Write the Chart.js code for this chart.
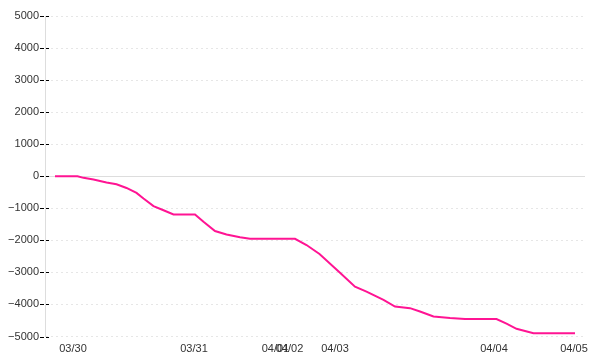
<!DOCTYPE html>
<html>
<head>
<meta charset="utf-8">
<script src="https://cdn.jsdelivr.net/npm/chart.js@4/dist/chart.umd.min.js"></script>
<style>
  html, body { margin: 0; padding: 0; background: #ffffff; }
  #wrap { width: 600px; height: 360px; }
</style>
</head>
<body>
<div id="wrap"><canvas id="c" width="600" height="360"></canvas></div>
<script>
// x positions (time index units) and cumulative values
const xPositions = [0, 4.5, 5.7, 7.7, 10.3, 12.3, 14.3, 16.3, 17.7, 19.7, 21.7, 23.7, 28, 29.7, 32, 34.3, 37, 39, 48, 50.3, 52.9, 57, 60, 62.3, 65.7, 68, 71, 73, 75.7, 79, 82, 88.3, 90.3, 92.3, 95.7, 104];
const values = [0, 0, -50, -100, -195, -250, -365, -520, -695, -930, -1060, -1190, -1190, -1420, -1710, -1815, -1905, -1950, -1950, -2145, -2425, -3010, -3445, -3600, -3860, -4065, -4115, -4220, -4375, -4425, -4455, -4455, -4600, -4760, -4895, -4895];
// date tick labels and their positions on the x index
const dateLabels = ["03/30", "03/31", "04/01", "04/02", "04/03", "04/04", "04/05"];
const datePositions = [3.6, 27.8, 44.1, 46.9, 56, 87.8, 103.8];
const yTicks = [5000, 4000, 3000, 2000, 1000, 0, -1000, -2000, -3000, -4000, -5000];

const FONT = { family: "'Liberation Sans', Arial, sans-serif", size: 11 };

const extras = {
  id: 'extras',
  beforeDatasetsDraw(chart) {
    const { ctx, chartArea, scales } = chart;
    const y0 = Math.round(scales.y.getPixelForValue(0)) + 0.5;
    ctx.save();
    ctx.strokeStyle = '#dddddd';
    ctx.lineWidth = 1;
    ctx.setLineDash([]);
    ctx.beginPath();
    ctx.moveTo(chartArea.left, y0);
    ctx.lineTo(chartArea.right, y0);
    ctx.stroke();
    // tick marks crossing the y axis
    ctx.strokeStyle = '#000000';
    ctx.setLineDash([4, 2]);
    yTicks.forEach(v => {
      const py = Math.round(scales.y.getPixelForValue(v)) + 0.5;
      ctx.beginPath();
      ctx.moveTo(chartArea.left - 5, py);
      ctx.lineTo(chartArea.left + 4, py);
      ctx.stroke();
    });
    ctx.restore();
  }
};

new Chart(document.getElementById('c'), {
  type: 'line',
  data: {
    datasets: [{
      data: xPositions.map((x, i) => ({ x: x, y: values[i] })),
      borderColor: '#ff1493',
      borderWidth: 2,
      pointRadius: 0,
      tension: 0,
      fill: false
    }]
  },
  options: {
    responsive: false,
    animation: false,
    devicePixelRatio: 1,
    layout: { padding: { top: 16, right: 15, bottom: 0, left: 0 } },
    plugins: { legend: { display: false }, tooltip: { enabled: false } },
    scales: {
      x: {
        type: 'linear',
        min: -2,
        max: 106,
        afterBuildTicks(scale) { scale.ticks = datePositions.map(v => ({ value: v })); },
        afterFit(scale) { scale.height = 23.5; },
        ticks: {
          autoSkip: false,
          maxRotation: 0,
          padding: 6,
          color: '#333333',
          font: FONT,
          callback: (value, index) => dateLabels[index]
        },
        grid: { display: false, drawTicks: false },
        border: { display: false }
      },
      y: {
        type: 'linear',
        min: -5000,
        max: 5000,
        afterBuildTicks(scale) { scale.ticks = yTicks.map(v => ({ value: v })); },
        afterFit(scale) { scale.width = 45; },
        ticks: {
          padding: 6,
          color: '#333333',
          font: FONT,
          callback: (value) => (value < 0 ? '\u2212' + Math.abs(value) : String(value))
        },
        grid: { color: '#e6e6e6', drawTicks: false, lineWidth: 1 },
        border: { display: true, color: '#dddddd', dash: [2, 3] }
      }
    }
  },
  plugins: [extras]
});
</script>
</body>
</html>
